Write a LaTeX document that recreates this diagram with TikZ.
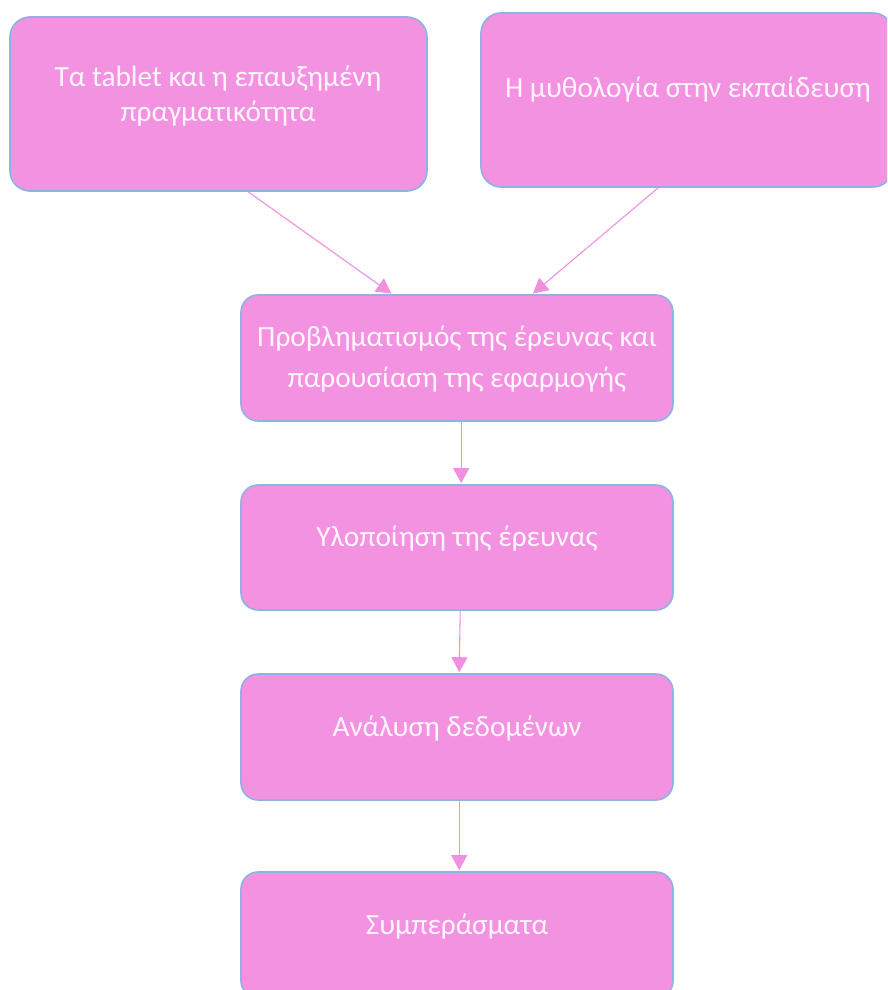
\documentclass[tikz,border=0pt]{standalone}
\usepackage{fontspec}
\setmainfont{Carlito}
\usetikzlibrary{arrows.meta,calc}
\definecolor{boxfill}{HTML}{F492E2}
\definecolor{boxline}{HTML}{8DB3E2}
\definecolor{arrcol}{HTML}{F28FDF}
\definecolor{txtcol}{HTML}{FFF6FD}
\tikzset{
  box/.style={draw=boxline, line width=1.6pt, fill=boxfill, rounded corners=17pt, inner sep=0pt},
  lbl/.style={text=txtcol, font=\fontsize{29.3}{35}\selectfont, align=center, inner sep=0pt},
  arr/.style={draw=arrcol, line width=1.1pt, -{Triangle[length=15pt,width=16pt]}, shorten >=1pt}
}
\begin{document}
\begin{tikzpicture}[x=1pt,y=-1pt]
\useasboundingbox (0,0) rectangle (887,990);
\clip (0,0) rectangle (887,990);
\node[box, minimum width=417pt, minimum height=174pt, rounded corners=20pt] (a) at (218.5,104) {};
\node[box, minimum width=412pt, minimum height=174pt, rounded corners=20pt] (b) at (687,100) {};
\node[box, minimum width=432pt, minimum height=126pt] (c) at (457,358) {};
\node[box, minimum width=432pt, minimum height=125pt] (d) at (457,547.5) {};
\node[box, minimum width=432pt, minimum height=126pt] (e) at (457,737) {};
\node[box, minimum width=432pt, minimum height=126pt] (f) at (457,935) {};

\node[lbl] (ta) at (218,96) {Τα tablet και η επαυξημένη\\πραγματικότητα};
\node[lbl] (tb) at (688,89.5) {Η μυθολογία στην εκπαίδευση};
\node[lbl, font=\fontsize{29.3}{41}\selectfont] (tc) at (457,359) {Προβληματισμός της έρευνας και\\παρουσίαση της εφαρμογής};
\node[lbl] (td) at (457,538.5) {Υλοποίηση της έρευνας};
\node[lbl] (te) at (457,728.5) {Ανάλυση δεδομένων};
\node[lbl] (tf) at (457,926.5) {Συμπεράσματα};

\draw[arr] ($(a.south west)+(239,0)$) -- ($(c.north west)+(152,0)$);
\draw[arr] ($(b.south west)+(178,0)$) -- ($(c.north west)+(292,0)$);
\draw[arr] ($(c.south west)+(221,0)$) -- ($(d.north west)+(221,0)$);
\draw[arr] ($(d.south west)+(220,0)$) -- ($(e.north west)+(219,0)$);
\draw[arr] ($(e.south west)+(219,0)$) -- ($(f.north west)+(219,0)$);
\end{tikzpicture}
\end{document}
